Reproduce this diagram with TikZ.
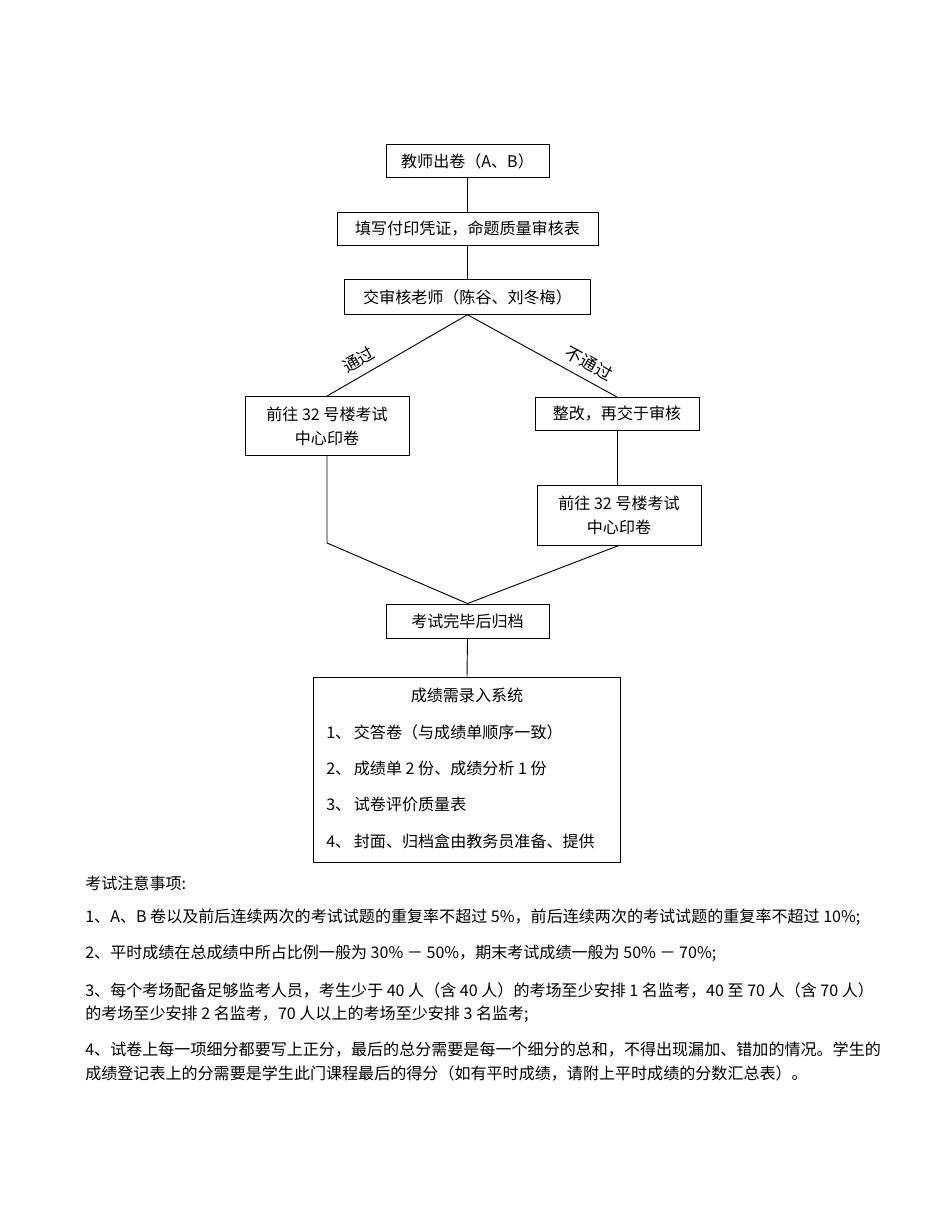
\documentclass[tikz,border=0pt]{standalone}
\usepackage{fontspec}
\setmainfont{Noto Sans CJK SC}
\tikzset{
  box/.style={draw, line width=0.6pt, inner sep=0pt, align=center,
    font=\fontsize{10.5}{15.7}\selectfont},
  link/.style={line width=0.6pt},
  label/.style={above, sloped, inner sep=5pt, font=\fontsize{11}{13}\selectfont},
  item/.style={anchor=west, inner sep=0pt, font=\fontsize{10.5}{13}\selectfont},
  note/.style={anchor=north west, inner sep=0pt, align=left,
    font=\fontsize{10.5}{15.5}\selectfont}
}
\begin{document}
\begin{tikzpicture}[x=0.654pt, y=-0.654pt]
    \useasboundingbox (0,0) rectangle (936,1213);

    \draw node[box, minimum width=106.6pt, minimum height=22pt] (node1) at (467.5,161) {教师出卷（A、B）};
    \draw node[box, minimum width=170.7pt, minimum height=22pt] (node2) at (467.5,229) {填写付印凭证，命题质量审核表};
    \draw node[box, minimum width=160.9pt, minimum height=22.6pt] (node3) at (467.5,297) {交审核老师（陈谷、刘冬梅）};
    \draw node[box, minimum width=107.3pt, minimum height=38.6pt] (node4) at (327,426) {前往 32 号楼考试\\中心印卷};
    \draw node[box, minimum width=107.3pt, minimum height=21.6pt] (node5) at (617,414) {整改，再交于审核};
    \draw node[box, minimum width=107.3pt, minimum height=39.2pt] (node6) at (619,515) {前往 32 号楼考试\\中心印卷};
    \draw node[box, minimum width=106.6pt, minimum height=22.2pt] (node7) at (467.5,621) {考试完毕后归档};
    \draw node[box, minimum width=200.8pt, minimum height=121pt] (node8) at (467,769.5) {};
    \coordinate (bend) at (327,543);

    \draw[link] (node1.south) to (node2.north);
    \draw[link] (node2.south) to (node3.north);
    \draw[link] (node3.south) to node[pos=0.72, label] {通过} (node4.north);
    \draw[link] (node3.south) to node[pos=0.76, label] {不通过} (node5.north);
    \draw[link] (node5.south) to (node5.south |- node6.north);
    \draw[link] (node4.south) to (bend) to (node7.north);
    \draw[link] (node6.south) to (node7.north);
    \draw[link] (node7.south) to (node8.north);

    % contents of the last box
    \node[inner sep=0pt, font=\fontsize{10.5}{13}\selectfont] (title) at (467,695) {成绩需录入系统};
    \node[item] (item1) at (326,732) {1、\,交答卷（与成绩单顺序一致）};
    \node[item] (item2) at (326,768) {2、\,成绩单 2 份、成绩分析 1 份};
    \node[item] (item3) at (326,804) {3、\,试卷评价质量表};
    \node[item] (item4) at (326,841) {4、\,封面、归档盒由教务员准备、提供};

    % notes below the chart
    \node[note] (note0) at (85,876) {考试注意事项:};
    \node[note] (note1) at (85,909) {1、A、B 卷以及前后连续两次的考试试题的重复率不超过 5\%，前后连续两次的考试试题的重复率不超过 10\%;};
    \node[note] (note2) at (85,945) {2、平时成绩在总成绩中所占比例一般为 30\% － 50\%，期末考试成绩一般为 50\% － 70\%;};
    \node[note] (note3) at (85,982) {3、每个考场配备足够监考人员，考生少于 40 人（含 40 人）的考场至少安排 1 名监考，40 至 70 人（含 70 人）\\的考场至少安排 2 名监考，70 人以上的考场至少安排 3 名监考;};
    \node[note] (note4) at (85,1042) {4、试卷上每一项细分都要写上正分，最后的总分需要是每一个细分的总和，不得出现漏加、错加的情况。学生的\\成绩登记表上的分需要是学生此门课程最后的得分（如有平时成绩，请附上平时成绩的分数汇总表）。};
\end{tikzpicture}
\end{document}
